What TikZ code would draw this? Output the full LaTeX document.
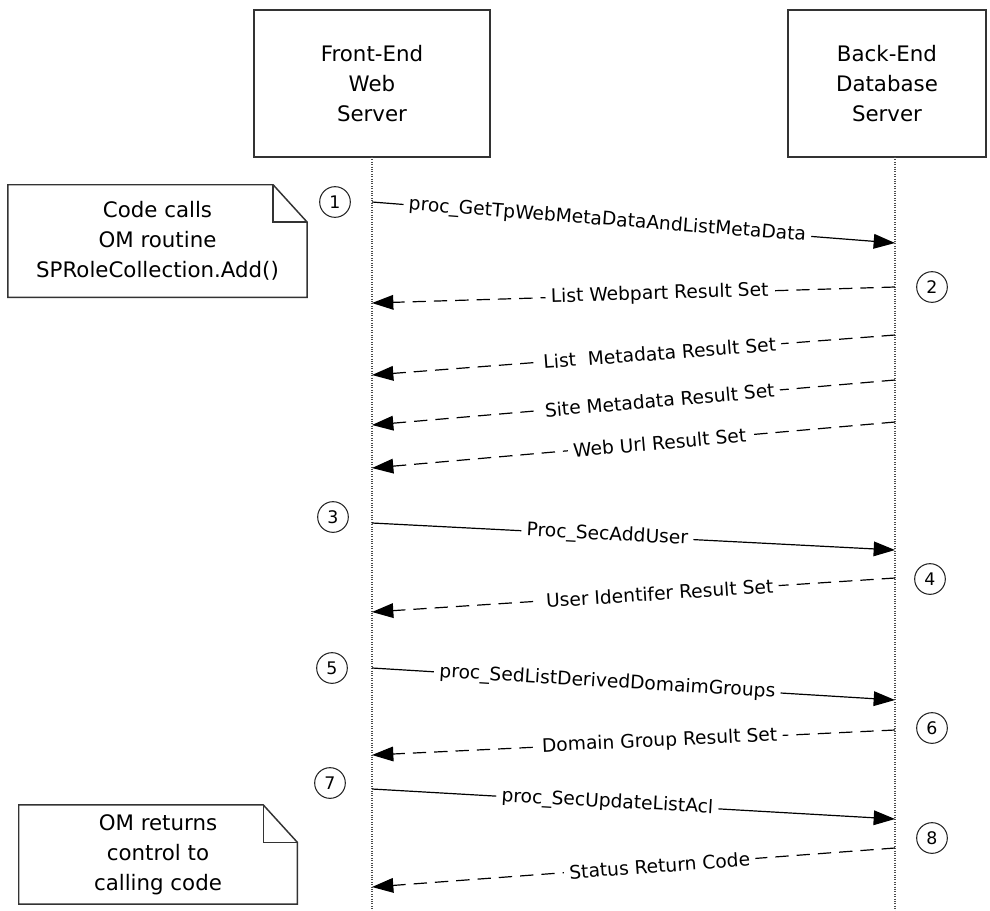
\documentclass[tikz,border=0pt]{standalone}
\usepackage{fontspec}
\setmainfont{DejaVu Sans}
\usetikzlibrary{arrows.meta}
\usetikzlibrary{positioning}

\begin{document}
\begin{tikzpicture}[x=0.75pt, y=-0.75pt]
    \tikzset{ srv/.style  ={draw=black!80, line width=1.1pt, minimum height=110.25pt, inner sep=0pt, align=center, font=\fontsize{16}{22.5}\selectfont} }
    \tikzset{ life/.style ={draw=black!70, densely dotted, line width=0.8pt} }
    \tikzset{ msg/.style  ={draw=black, line width=0.9pt, -{Triangle[length=16pt, width=11pt]}} }
    \tikzset{ rsp/.style  ={msg, dash pattern=on 10pt off 6pt} }
    \tikzset{ lbl/.style  ={sloped, pos=0.45, fill=white, inner xsep=4pt, inner ysep=1pt, font=\fontsize{14}{16}\selectfont} }
    \tikzset{ num/.style  ={draw=black!85, circle, line width=0.8pt, minimum size=23pt, inner sep=0pt, font=\fontsize{13}{13}\selectfont} }
    \tikzset{ note/.style ={inner sep=0pt, align=center, font=\fontsize{16}{22.5}\selectfont} }
    \tikzset{ nbox/.style ={draw=black!80, line width=1.1pt} }

    \useasboundingbox (0,0) rectangle (990,911);

    % servers and lifelines
    \node[srv, minimum width=177pt  ] (fe) at (372,83.5) {Front-End\\Web\\Server};
    \node[srv, minimum width=148.5pt] (be) at (887,83.5) {Back-End\\Database\\Server};

    \coordinate (fe_top) at (372,157);  \coordinate (fe_bot) at (372,911);
    \coordinate (be_top) at (895,157);  \coordinate (be_bot) at (895,911);
    \draw[life] (fe_top) -- (fe_bot);
    \draw[life] (be_top) -- (be_bot);

    % notes
    \node[note, minimum width=224pt,   minimum height=84pt] (n1) at (157.5,241)   {Code calls\\OM routine\\SPRoleCollection.Add()};
    \node[note, minimum width=208.5pt, minimum height=74pt] (n2) at (158,854.5)   {OM returns\\control to\\calling code};
    \foreach \n in {n1,n2}{
        \draw[nbox] (\n.north west) -- ([xshift=-25.5pt]\n.north east) -- ([yshift=-28pt]\n.north east) -- (\n.south east) -- (\n.south west) -- cycle;
        \draw[nbox] ([xshift=-25.5pt]\n.north east) |- ([yshift=-28pt]\n.north east);
    }

    % message ends
    \coordinate (f1)  at (372,202);  \coordinate (b1)  at (895,243);
    \coordinate (f2)  at (372,303);  \coordinate (b2)  at (895,287);
    \coordinate (f3)  at (372,375);  \coordinate (b3)  at (895,335);
    \coordinate (f4)  at (372,425);  \coordinate (b4)  at (895,380);
    \coordinate (f5)  at (372,468);  \coordinate (b5)  at (895,422);
    \coordinate (f6)  at (372,523);  \coordinate (b6)  at (895,550);
    \coordinate (f7)  at (372,612);  \coordinate (b7)  at (895,578);
    \coordinate (f8)  at (372,668);  \coordinate (b8)  at (895,700);
    \coordinate (f9)  at (372,755);  \coordinate (b9)  at (895,730);
    \coordinate (f10) at (372,789);  \coordinate (b10) at (895,819);
    \coordinate (f11) at (372,887);  \coordinate (b11) at (895,848);

    \draw[msg] (f1)  -- (b1)  node[lbl] {proc\_GetTpWebMetaDataAndListMetaData};
    \draw[rsp] (b2)  -- (f2)  node[lbl] {List Webpart Result Set};
    \draw[rsp] (b3)  -- (f3)  node[lbl] {List\ \ Metadata Result Set};
    \draw[rsp] (b4)  -- (f4)  node[lbl] {Site Metadata Result Set};
    \draw[rsp] (b5)  -- (f5)  node[lbl] {Web Url Result Set};
    \draw[msg] (f6)  -- (b6)  node[lbl] {Proc\_SecAddUser};
    \draw[rsp] (b7)  -- (f7)  node[lbl] {User Identifer Result Set};
    \draw[msg] (f8)  -- (b8)  node[lbl] {proc\_SedListDerivedDomaimGroups};
    \draw[rsp] (b9)  -- (f9)  node[lbl] {Domain Group Result Set};
    \draw[msg] (f10) -- (b10) node[lbl] {proc\_SecUpdateListAcl};
    \draw[rsp] (b11) -- (f11) node[lbl] {Status Return Code};

    % step numbers
    \node[num] (s1) at (335,202) {1};
    \node[num] (s2) at (932,287) {2};
    \node[num] (s3) at (333,517) {3};
    \node[num] (s4) at (930,579) {4};
    \node[num] (s5) at (332,668) {5};
    \node[num] (s6) at (932,728) {6};
    \node[num] (s7) at (330,783) {7};
    \node[num] (s8) at (932,838) {8};
\end{tikzpicture}
\end{document}
